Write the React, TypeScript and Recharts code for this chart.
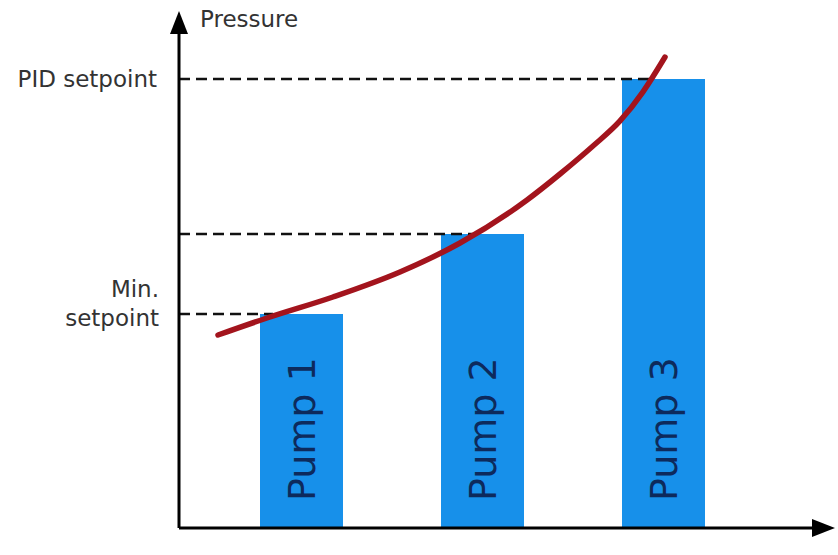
import React from "react";
import { ComposedChart, Bar, Line, XAxis, YAxis, ReferenceLine, LabelList, Label } from "recharts";

// Pumps and delivered pressure
const pumpNames = ["Pump 1", "Pump 2", "Pump 3"];
const pumpPressure = [43.3, 59.5, 90.9];

// System curve (x on a 0-100 horizontal scale)
const curveX = [6.16, 13.9, 24.33, 34.91, 44.39, 54.98, 60.19, 65.4, 69.67, 73.3, 76.78];
const curveY = [39.07, 42.51, 46.76, 51.82, 57.69, 66.4, 71.66, 77.33, 82.4, 88.3, 95.34];

// Dashed guide lines: level and where they end
const guideLevels = [43.3, 59.5, 90.9];
const guideEnds = [14.85, 46.4, 74.4];

// Y tick labels
const yTicks = [43.3, 90.9];
const yTickLabels: Record<string, string[]> = {
  "43.3": ["Min.", "setpoint"],
  "90.9": ["PID setpoint"],
};
const yTitle = "Pressure";

const pumpData = pumpNames.map((name, i) => ({ name, pressure: pumpPressure[i] }));
const curveData = curveX.map((x, i) => ({ x, y: curveY[i] }));

const FONT = "'DejaVu Sans', Verdana, sans-serif";

const YTick = (props: any) => {
  const { x, y, payload } = props;
  const lines = yTickLabels[String(payload.value)] || [];
  if (lines.length === 1) {
    return (
      <text x={x} y={y} dy={8} textAnchor="end" fontFamily={FONT} fontSize={23} fill="#333">
        {lines[0]}
      </text>
    );
  }
  return (
    <g>
      <text x={x + 2} y={y} dy={-17} textAnchor="end" fontFamily={FONT} fontSize={23} fill="#333">
        {lines[0]}
      </text>
      <text x={x + 2} y={y} dy={12} textAnchor="end" fontFamily={FONT} fontSize={23} fill="#333">
        {lines[1]}
      </text>
    </g>
  );
};

const PumpLabel = (props: any) => {
  const { x, y, width, height, value } = props;
  const cx = x + width / 2;
  const by = y + height - 27;
  return (
    <text
      x={cx}
      y={by}
      transform={`rotate(-90 ${cx} ${by})`}
      textAnchor="start"
      dominantBaseline="central"
      fontFamily={FONT}
      fontSize={38}
      fill="#0d2a5c"
    >
      {value}
    </text>
  );
};

export default function App() {
  return (
    <div style={{ position: "absolute", left: 0, top: 0, width: 838, height: 555, background: "#fff" }}>
      <svg width={0} height={0} style={{ position: "absolute" }}>
        <defs>
          <marker
            id="arrowHead"
            markerUnits="userSpaceOnUse"
            markerWidth={24}
            markerHeight={20}
            refX={0}
            refY={9}
            orient="auto-start-reverse"
          >
            <path d="M0,0 L23,9 L0,18 z" fill="#000" />
          </marker>
        </defs>
      </svg>
      <ComposedChart
        width={838}
        height={555}
        data={pumpData}
        margin={{ top: 34, right: 26, bottom: 26, left: 0 }}
      >
        <XAxis
          xAxisId="num"
          type="number"
          dataKey="x"
          domain={[0, 100]}
          allowDataOverflow
          height={1}
          tick={false}
          tickLine={false}
          axisLine={{ stroke: "#000", strokeWidth: 3, markerEnd: "url(#arrowHead)" }}
        />
        <XAxis
          xAxisId="cat"
          type="category"
          dataKey="name"
          hide
          height={0}
          padding={{ left: 32, right: 58 }}
        />
        <YAxis
          type="number"
          domain={[0, 100]}
          allowDataOverflow
          width={179}
          ticks={yTicks}
          tick={<YTick />}
          tickLine={false}
          tickMargin={16}
          axisLine={{ stroke: "#000", strokeWidth: 3, markerStart: "url(#arrowHead)" }}
        >
          <Label
            content={(p: any) => {
              const vb = p.viewBox || { x: 0, y: 34, width: 179 };
              return (
                <text x={vb.x + vb.width + 21} y={vb.y - 7} fontFamily={FONT} fontSize={23} fill="#333">
                  {yTitle}
                </text>
              );
            }}
          />
        </YAxis>
        <Bar xAxisId="cat" dataKey="pressure" barSize={83} fill="#1790ea" isAnimationActive={false}>
          <LabelList dataKey="name" content={<PumpLabel />} />
        </Bar>
        {guideLevels.map((lv, i) => (
          <ReferenceLine
            key={i}
            xAxisId="num"
            segment={[
              { x: 0, y: lv },
              { x: guideEnds[i], y: lv },
            ]}
            stroke="#111"
            strokeWidth={2.5}
            strokeDasharray="11 6"
            ifOverflow="visible"
          />
        ))}
        <Line
          xAxisId="num"
          data={curveData}
          dataKey="y"
          type="monotoneX"
          stroke="#a3141d"
          strokeWidth={5.5}
          strokeLinecap="round"
          dot={false}
          activeDot={false}
          isAnimationActive={false}
        />
      </ComposedChart>
    </div>
  );
}
